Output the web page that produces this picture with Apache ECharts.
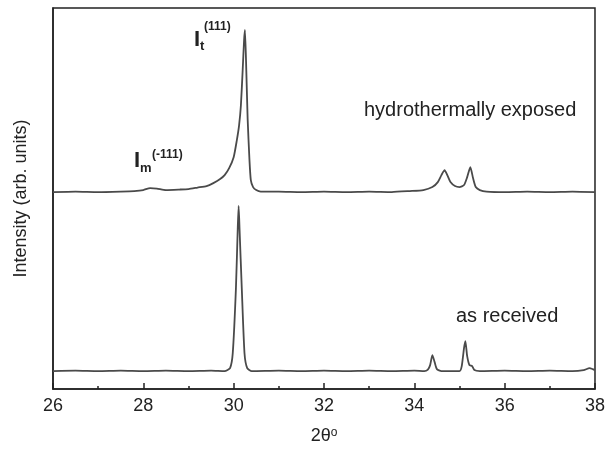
<!DOCTYPE html>
<html lang="en" style="height: 100%">
<head>
  <meta charset="utf-8">
</head>
<body style="height: 100%; margin: 0; background: #fff">
  <div id="container" style="width: 608px; height: 450px"></div>

  <script type="text/javascript" src="https://cdn.jsdelivr.net/npm/echarts@6/dist/echarts.min.js"></script>

  <script type="text/javascript">
    // 2 theta (deg) and intensity (arb. units)
    var exposedTheta = [26.0, 26.5, 27.0, 27.5, 27.8, 28.0, 28.15, 28.3, 28.5, 28.8, 29.0, 29.2, 29.4, 29.55, 29.7, 29.8, 29.9, 30.0, 30.07, 30.12, 30.16, 30.2, 30.23, 30.25, 30.28, 30.31, 30.35, 30.38, 30.43, 30.5, 30.6, 31.0, 31.5, 32.0, 32.5, 33.0, 33.5, 33.9, 34.2, 34.4, 34.52, 34.6, 34.67, 34.73, 34.8, 34.9, 35.0, 35.1, 35.17, 35.24, 35.3, 35.36, 35.45, 35.6, 36.0, 36.5, 37.0, 37.5, 38.0];
    var exposedIntensity = [198, 198.5, 198, 198.5, 199, 200, 202, 201.5, 200, 200.5, 201, 202.5, 204, 207, 211, 215, 222, 233, 250, 265, 285, 321, 350, 361, 320, 271, 230, 210, 203, 200, 198.5, 198.5, 198, 198.5, 198, 198.5, 198, 199, 200, 203, 208, 215, 220, 215, 208, 204, 203, 205, 213, 223, 212, 203, 200, 198.5, 198, 198.5, 198, 198.5, 198];

    var receivedTheta = [26.0, 26.5, 27.0, 27.5, 28.0, 28.5, 29.0, 29.5, 29.8, 29.92, 29.98, 30.05, 30.09, 30.11, 30.13, 30.18, 30.24, 30.3, 30.4, 31.0, 31.5, 32.0, 32.5, 33.0, 33.5, 34.0, 34.22, 34.3, 34.35, 34.4, 34.45, 34.5, 34.6, 35.0, 35.05, 35.1, 35.13, 35.17, 35.22, 35.28, 35.33, 35.45, 36.0, 36.5, 37.0, 37.5, 37.75, 37.88, 37.95, 38.0];
    var receivedIntensity = [18, 18.5, 18, 18.5, 18, 18.5, 18, 18.5, 18, 21, 36, 101, 161, 184, 161, 101, 36, 21, 18, 18.5, 18, 18.5, 18, 18.5, 18, 18.5, 18, 19.5, 24, 34, 27, 20, 18, 18, 23, 41, 48, 33, 24, 23, 19, 18, 18.5, 18, 18.5, 18, 19, 21, 20, 19];

    var xTicks = [26, 28, 30, 32, 34, 36, 38];

    function pairs(xs, ys) {
      return xs.map(function (x, i) { return [x, ys[i]]; });
    }

    var myChart = echarts.init(document.getElementById('container'), null, { renderer: 'canvas' });

    var ink = '#222';
    var curve = '#4a4a4a';
    var font = 'Liberation Sans, Arial, sans-serif';

    var option = {
      animation: false,
      backgroundColor: '#fff',
      grid: {
        left: 53, right: 11, top: 8, bottom: 59,
        show: true, borderColor: ink, borderWidth: 1.5
      },
      xAxis: {
        type: 'value',
        min: xTicks[0],
        max: xTicks[xTicks.length - 1],
        interval: 2,
        name: '2θ{sup|o}',
        nameLocation: 'middle',
        nameGap: 38,
        nameTextStyle: {
          color: ink, fontSize: 18, fontFamily: font,
          rich: { sup: { fontSize: 12, verticalAlign: 'top', color: ink, fontFamily: font } }
        },
        axisLine: { lineStyle: { color: ink, width: 1.5 } },
        axisTick: { inside: true, length: 6, lineStyle: { color: ink, width: 1.5 } },
        minorTick: { show: true, splitNumber: 2, length: 3, lineStyle: { color: ink, width: 1.5 } },
        axisLabel: { color: ink, fontSize: 18, fontFamily: font, margin: 8 },
        splitLine: { show: false }
      },
      yAxis: {
        type: 'value',
        min: 0,
        max: 383,
        name: 'Intensity (arb. units)',
        nameLocation: 'middle',
        nameGap: 23,
        nameTextStyle: { color: ink, fontSize: 18, fontFamily: font },
        axisLine: { show: true, lineStyle: { color: ink, width: 1.5 } },
        axisTick: { show: false },
        axisLabel: { show: false },
        splitLine: { show: false }
      },
      series: [
        {
          name: 'hydrothermally exposed',
          type: 'line',
          data: pairs(exposedTheta, exposedIntensity),
          showSymbol: false,
          smooth: 0.2,
          lineStyle: { color: curve, width: 1.8 }
        },
        {
          name: 'as received',
          type: 'line',
          data: pairs(receivedTheta, receivedIntensity),
          showSymbol: false,
          smooth: 0.2,
          lineStyle: { color: curve, width: 1.8 }
        }
      ],
      graphic: [
        { type: 'text', x: 194, y: 40, style: { text: 'I', font: 'bold 22px ' + font, fill: ink, verticalAlign: 'middle' } },
        { type: 'text', x: 200, y: 46, style: { text: 't', font: 'bold 13px ' + font, fill: ink, verticalAlign: 'middle' } },
        { type: 'text', x: 204, y: 27, style: { text: '(111)', font: 'bold 12px ' + font, fill: ink, verticalAlign: 'middle' } },
        { type: 'text', x: 134, y: 161, style: { text: 'I', font: 'bold 22px ' + font, fill: ink, verticalAlign: 'middle' } },
        { type: 'text', x: 140, y: 168, style: { text: 'm', font: 'bold 13px ' + font, fill: ink, verticalAlign: 'middle' } },
        { type: 'text', x: 152, y: 155, style: { text: '(-111)', font: 'bold 12px ' + font, fill: ink, verticalAlign: 'middle' } },
        { type: 'text', x: 364, y: 110, style: { text: 'hydrothermally exposed', font: '20px ' + font, fill: ink, verticalAlign: 'middle' } },
        { type: 'text', x: 456, y: 316, style: { text: 'as received', font: '20px ' + font, fill: ink, verticalAlign: 'middle' } }
      ]
    };

    myChart.setOption(option);
    window.addEventListener('resize', myChart.resize);
  </script>
</body>
</html>
